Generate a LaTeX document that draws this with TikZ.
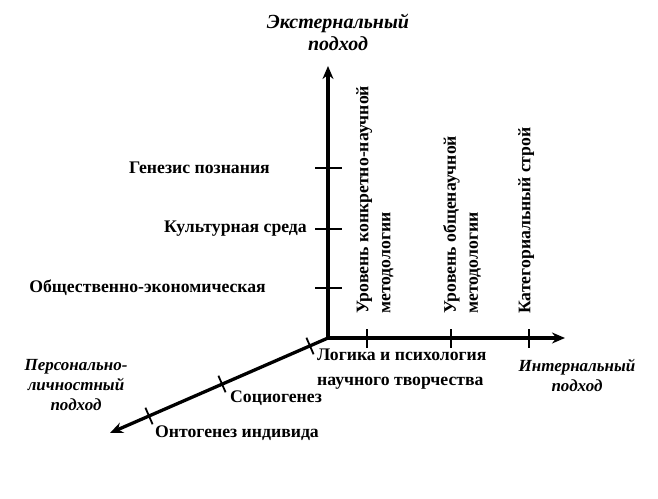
\documentclass[tikz,border=0pt]{standalone}
\usepackage{fontspec}
\setmainfont{Liberation Serif}
\usetikzlibrary{arrows.meta,calc}
\tikzset{
  axis/.style={line width=3.3pt,-{Stealth[length=13pt,width=11pt]}},
  tick/.style={line width=1.8pt},
  lbl/.style={font=\fontsize{17.7}{22}\selectfont\bfseries, inner sep=0pt},
  ital/.style={font=\fontsize{17}{20}\selectfont\bfseries\itshape, inner sep=0pt, align=center},
}
\begin{document}
\begin{tikzpicture}[x=1pt,y=-1pt]
\useasboundingbox (0,0) rectangle (658,498);
\coordinate (O) at (328,338);
\coordinate (Ytip) at (328,66);
\coordinate (Xtip) at (565,338);
\coordinate (Ztip) at (110,433);
\draw[axis] (O) -- (Ytip);
\draw[axis] (O) -- (Xtip);
\draw[axis] (O) -- (Ztip);
% vertical ticks
\foreach \y in {168,229,288} \draw[tick] (315,\y) -- (342,\y);
% horizontal ticks
\foreach \x in {367,451,529} \draw[tick] (\x,329) -- (\x,348);
% diagonal ticks
\foreach \px/\py in {310/346,222/384,149/416} \draw[tick] ($(\px,\py)+(-3.6,-8.3)$) -- ($(\px,\py)+(3.6,8.3)$);
% axis titles
\node[ital, font=\fontsize{20}{22}\selectfont\bfseries\itshape] (ext) at (338,32) {Экстернальный\\подход};
\node[ital] (int) at (577,375) {Интернальный\\подход};
\node[ital] (pers) at (76,385) {Персонально-\\личностный\\подход};
% vertical axis labels
\node[lbl, anchor=east] (gen) at (270,168) {Генезис познания};
\node[lbl, anchor=east] (kul) at (307,229) {Культурная среда};
\node[lbl, anchor=east] (obs) at (266,288) {Общественно-экономическая};
% rotated labels
\node[lbl, rotate=90, anchor=north west, align=left] (ur1) at (356,314) {Уровень конкретно-научной\\методологии};
\node[lbl, rotate=90, anchor=north west, align=left] (ur2) at (443,314) {Уровень общенаучной\\методологии};
\node[lbl, rotate=90, anchor=north west] (kat) at (518,314) {Категориальный строй};
% bottom labels
\node[lbl, align=left, anchor=north west, font=\fontsize{17.7}{25}\selectfont\bfseries] (log) at (317,349) {Логика и психология\\научного творчества};
\node[lbl, anchor=west] (soc) at (230,398) {Социогенез};
\node[lbl, anchor=west] (ont) at (155,433) {Онтогенез индивида};
\end{tikzpicture}
\end{document}
